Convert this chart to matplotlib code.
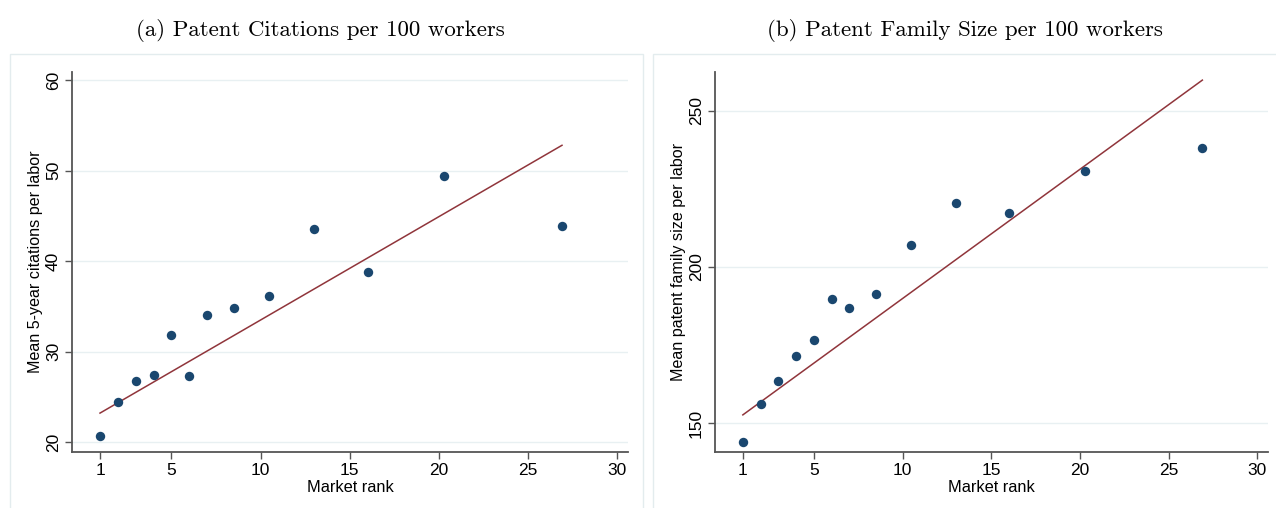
import numpy as np
import matplotlib.pyplot as plt
from matplotlib.patches import Rectangle

# binned market rank (same bins in both panels)
rank = [1, 2, 3, 4, 5, 6, 7, 8.5, 10.5, 13, 16, 20.3, 26.9]

# panel (a): mean 5-year citations per labor
cites = [20.7, 24.4, 26.7, 27.4, 31.8, 27.3, 34.0, 34.8, 36.1, 43.6, 38.8, 49.4, 43.9]
# panel (b): mean patent family size per labor
family = [143.9, 156.1, 163.5, 171.5, 176.6, 189.7, 186.9, 191.3, 207.0, 220.5, 217.3, 230.8, 238.1]

# fitted lines (endpoints)
fit_x = [1, 26.9]
fit_cites = [23.2, 52.8]
fit_family = [152.6, 259.9]

titles = ["(a) Patent Citations per 100 workers", "(b) Patent Family Size per 100 workers"]
ylabels = ["Mean 5-year citations per labor", "Mean patent family size per labor"]
xticks = [1, 5, 10, 15, 20, 25, 30]
yticks_a = [20, 30, 40, 50, 60]
yticks_b = [150, 200, 250]

navy = "#1a476f"
maroon = "#90353b"
grid_c = "#e8f0f2"
axis_c = "#555555"

plt.rcParams['font.family'] = ['Liberation Sans', 'DejaVu Sans']

fig = plt.figure(figsize=(12.76, 5.08), dpi=100)
W, H = 1276.0, 508.0

# panel frames
for x0, x1 in [(10, 643), (653, 1290)]:
    fig.patches.append(Rectangle((x0 / W, -0.05), (x1 - x0) / W, (H - 54) / H + 0.05,
                                 transform=fig.transFigure, fill=False,
                                 edgecolor="#e3ecee", lw=1.0))

ax1 = fig.add_axes([72 / W, (H - 452) / H, 556 / W, 380 / H])
ax2 = fig.add_axes([715 / W, (H - 452) / H, 553 / W, 380 / H])

panels = [
    (ax1, cites, fit_cites, yticks_a, (18.9, 60.9)),
    (ax2, family, fit_family, yticks_b, (140.7, 262.5)),
]

for i, (ax, y, fy, yt, yl) in enumerate(panels):
    for yy in yt:
        ax.axhline(yy, color=grid_c, lw=1.0, zorder=0)
    ax.plot(fit_x, fy, color=maroon, lw=1.1, zorder=2)
    ax.scatter(rank, y, s=46, color=navy, zorder=3, linewidths=0)
    ax.set_xlim(-0.57, 30.6)
    ax.set_ylim(*yl)
    ax.set_xticks(xticks)
    ax.set_yticks(yt)
    ax.set_yticklabels([str(v) for v in yt], rotation=90, va='center')
    ax.tick_params(axis='both', labelsize=12.5, length=5, width=1.0, color=axis_c, pad=3)
    for s in ['top', 'right']:
        ax.spines[s].set_visible(False)
    for s in ['left', 'bottom']:
        ax.spines[s].set_color(axis_c)
        ax.spines[s].set_linewidth(1.3)
    ax.set_xlabel("Market rank", fontsize=11.8, labelpad=1)
    ax.set_ylabel(ylabels[i], fontsize=11.6, labelpad=2)

fig.text(320 / W, 1 - 30 / H, titles[0], family='cmr10', fontsize=16.5, ha='center', va='center')
fig.text(965 / W, 1 - 30 / H, titles[1], family='cmr10', fontsize=16.5, ha='center', va='center')

fig.savefig("out.png", dpi=100, facecolor='white')
